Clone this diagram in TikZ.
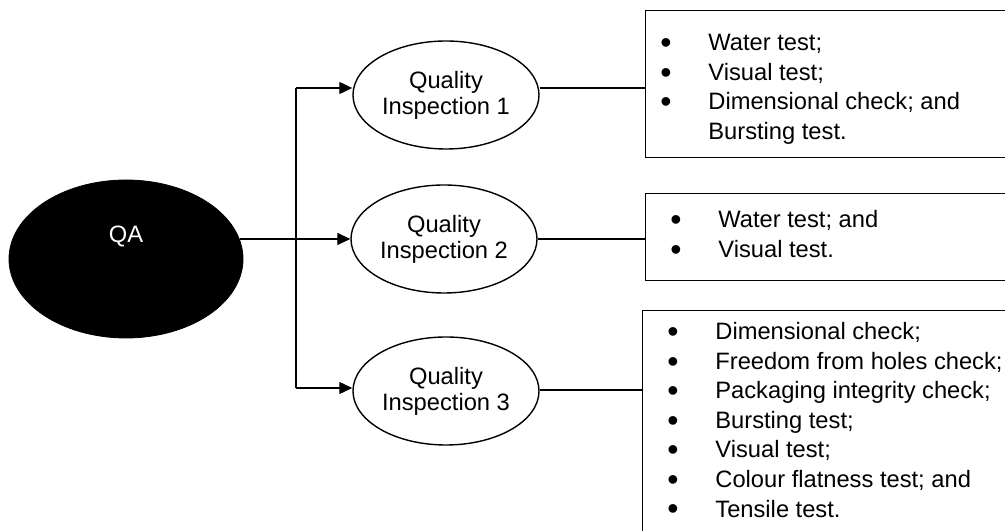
\documentclass[tikz,border=0pt]{standalone}
\usepackage{fontspec}
\setmainfont{Liberation Sans}
\usetikzlibrary{shapes.geometric,arrows.meta}
% a slightly heavier list bullet
\newcommand\listdot{\raisebox{-1.4bp}{\scalebox{1.35}{\textbullet}}}
\begin{document}
\begin{tikzpicture}[x=0.5bp,y=-0.5bp,
  every node/.style={font=\fontsize{11.85bp}{14.75bp}\selectfont},
  root/.style={ellipse, fill=black, draw=black, minimum width=117bp, minimum height=79bp, inner sep=0pt},
  inspect/.style={ellipse, draw, line width=0.7bp, minimum width=93bp, minimum height=54bp,
                  inner sep=0pt, align=center, font=\fontsize{11.85bp}{13bp}\selectfont},
  listbox/.style={rectangle, draw, line width=0.6bp, anchor=north west, minimum width=200bp, inner sep=0pt},
  listtext/.style={anchor=base west, inner sep=0pt},
  link/.style={line width=0.6bp},
  feed/.style={link, -{Triangle[length=6.5bp,width=6bp]}},
]
\useasboundingbox (0,0) rectangle (1005,531);
\begin{scope}
\clip (0,0) rectangle (1005,531);

% root and the three inspections
\node[root] (qa) at (126,259) {};
\node[text=white, inner sep=0pt] (qalabel) at (126,236) {QA};
\node[inspect] (e1) at (446,95)  {Quality\\Inspection 1};
\node[inspect] (e2) at (444,239) {Quality\\Inspection 2};
\node[inspect] (e3) at (446,391) {Quality\\Inspection 3};

% check-list boxes (open to the right)
\node[listbox, minimum height=73.5bp] (b1) at (645,10)  {};
\node[listbox, minimum height=43.5bp] (b2) at (645,193) {};
\node[listbox, minimum height=116bp]  (b3) at (642,310) {};

\node[listtext] (l1) at (660,51) {\begin{tabular}[t]{@{}p{24bp}@{}l@{}}
  \listdot & Water test;\\
  \listdot & Visual test;\\
  \listdot & Dimensional check; and\\
           & Bursting test.
\end{tabular}};
\node[listtext] (l2) at (670,228) {\begin{tabular}[t]{@{}p{24bp}@{}l@{}}
  \listdot & Water test; and\\
  \listdot & Visual test.
\end{tabular}};
\node[listtext] (l3) at (667,340) {\begin{tabular}[t]{@{}p{24bp}@{}l@{}}
  \listdot & Dimensional check;\\
  \listdot & Freedom from holes check;\\
  \listdot & Packaging integrity check;\\
  \listdot & Bursting test;\\
  \listdot & Visual test;\\
  \listdot & Colour flatness test; and\\
  \listdot & Tensile test.
\end{tabular}};

% connectors
\coordinate (split1) at (296,88);
\coordinate (split3) at (296,388);
\coordinate (out3) at (446,390);
\draw[link] (split1) -- (split3);
\draw[feed] (qa.10) -- (qa.10 -| e2.west);
\draw[feed] (split1) -- (split1 -| e1.west);
\draw[feed] (split3) -- (split3 -| e3.west);
\draw[link] (split1 -| e1.east) -- (split1 -| b1.west);
\draw[link] (qa.10 -| e2.east) -- (qa.10 -| b2.west);
\draw[link] (out3 -| e3.east) -- (out3 -| b3.west);
\end{scope}
\end{tikzpicture}
\end{document}
